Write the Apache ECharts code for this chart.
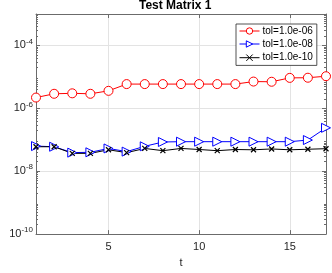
<!DOCTYPE html>
<html><head><meta charset="utf-8">
<script src="https://cdn.jsdelivr.net/npm/echarts@6/dist/echarts.min.js"></script>
<style>html,body{margin:0;padding:0;background:#fff}#c{width:332px;height:273px}</style>
</head><body><div id="c"></div>
<script>
var categories = [1,2,3,4,5,6,7,8,9,10,11,12,13,14,15,16,17];
var seriesNames = ['tol=1.0e-06','tol=1.0e-08','tol=1.0e-10'];
var tol6 = [2.2e-6,2.9e-6,3.0e-6,2.9e-6,3.6e-6,5.9e-6,5.9e-6,5.9e-6,5.9e-6,5.9e-6,5.9e-6,5.9e-6,7.1e-6,7.0e-6,9.3e-6,9.4e-6,1.05e-5];
var tol8 = [6.3e-8,6.0e-8,3.9e-8,4.0e-8,5.3e-8,4.2e-8,6.2e-8,8.5e-8,8.7e-8,8.7e-8,8.7e-8,8.7e-8,8.7e-8,8.7e-8,8.7e-8,9.8e-8,2.4e-7];
var tol10 = [6.0e-8,6.0e-8,3.7e-8,3.7e-8,4.8e-8,3.9e-8,5.3e-8,4.5e-8,5.3e-8,4.9e-8,4.5e-8,4.9e-8,4.8e-8,5.1e-8,4.8e-8,5.0e-8,5.2e-8];
var xTickLabels = [5,10,15];
var yTickLabels = [1e-10,1e-8,1e-6,1e-4];

var minorTicks = [];
for (var e = -10; e < -3; e++) { for (var m = 2; m <= 9; m++) minorTicks.push(m * Math.pow(10, e)); }

var axisColor = '#6b6b6b';
var font = 'Liberation Sans';
function xTickFn(i, v) { return xTickLabels.indexOf(Number(v)) >= 0; }

function yAxisBase(pos) {
  return { type: 'log', logBase: 10, min: 1e-10, max: 1e-3, interval: 2, position: pos,
    axisLine: { show: false }, splitLine: { show: false }, axisLabel: { show: false },
    axisTick: { show: true } };
}
var yMain = yAxisBase('left');
yMain.axisLine = { show: true, lineStyle: { color: axisColor, width: 1 } };
yMain.axisTick = { show: true, inside: true, length: 4, customValues: yTickLabels, lineStyle: { color: axisColor } };
yMain.splitLine = { show: true, lineStyle: { color: '#e3e3e3', width: 1 } };
yMain.axisLabel = { show: true, customValues: yTickLabels, margin: 3, fontFamily: font, color: '#262626',
  formatter: function (v) { var ex = Math.round(Math.log10(v)); return '{b|10}{s|' + ex + '}'; },
  rich: { b: { fontSize: 11, fontFamily: font, color: '#262626' },
          s: { fontSize: 8, fontFamily: font, color: '#262626', verticalAlign: 'bottom', padding: [0,0,8,0] } } };
var yMinorL = yAxisBase('left');
yMinorL.axisTick = { show: true, inside: true, length: 2, customValues: minorTicks, lineStyle: { color: axisColor } };
var yRight = yAxisBase('right');
yRight.axisLine = { show: true, lineStyle: { color: axisColor, width: 1 } };
yRight.axisTick = { show: true, inside: true, length: 4, customValues: yTickLabels, lineStyle: { color: axisColor } };
var yMinorR = yAxisBase('right');
yMinorR.axisTick = { show: true, inside: true, length: 2, customValues: minorTicks, lineStyle: { color: axisColor } };

var option = {
  animation: false,
  backgroundColor: '#fff',
  title: { text: 'Test Matrix 1', left: 139, top: 0, padding: 0,
    textStyle: { fontFamily: font, fontSize: 12, fontWeight: 'bold', color: '#000' } },
  grid: { left: 36, right: 6, top: 14, bottom: 35, containLabel: false },
  legend: {
    data: seriesNames, orient: 'vertical', left: 236, top: 24, width: 85,
    backgroundColor: '#fff', borderColor: '#262626', borderWidth: 0.8,
    padding: [2, 4, 2, 3], itemGap: 3, itemWidth: 20, itemHeight: 8,
    itemStyle: { borderWidth: 1 }, lineStyle: { width: 1 },
    textStyle: { fontFamily: font, fontSize: 10, color: '#000', padding: [0,0,0,-2] }
  },
  xAxis: [
    { type: 'category', data: categories, boundaryGap: false, position: 'bottom',
      name: 't', nameLocation: 'middle', nameGap: 21,
      nameTextStyle: { fontFamily: font, fontSize: 11, color: '#262626' },
      axisLine: { lineStyle: { color: axisColor } },
      axisTick: { inside: true, length: 4, interval: xTickFn, lineStyle: { color: axisColor } },
      axisLabel: { interval: xTickFn, margin: 7, fontFamily: font, fontSize: 11, color: '#262626' },
      splitLine: { show: true, interval: xTickFn, lineStyle: { color: '#e3e3e3' } } },
    { type: 'category', data: categories, boundaryGap: false, position: 'top',
      axisLine: { show: true, lineStyle: { color: axisColor } },
      axisTick: { inside: true, length: 4, interval: xTickFn, lineStyle: { color: axisColor } },
      axisLabel: { show: false }, splitLine: { show: false } }
  ],
  yAxis: [yMain, yMinorL, yRight, yMinorR],
  series: [
    { name: seriesNames[0], type: 'line', data: tol6, symbol: 'circle', symbolSize: 9,
      lineStyle: { color: '#ff0000', width: 1 }, itemStyle: { color: '#ffffff', borderColor: '#ff0000', borderWidth: 1 } },
    { name: seriesNames[1], type: 'line', data: tol8, symbol: 'triangle', symbolSize: 9, symbolRotate: -90,
      lineStyle: { color: '#0000ff', width: 1 }, itemStyle: { color: '#ffffff', borderColor: '#0000ff', borderWidth: 1 } },
    { name: seriesNames[2], type: 'line', data: tol10, symbol: 'path://M0,0L10,10M10,0L0,10', symbolSize: 5,
      lineStyle: { color: '#000', width: 1 }, itemStyle: { color: 'none', borderColor: '#000', borderWidth: 1.2 } }
  ]
};
var chart = echarts.init(document.getElementById('c'), null, { renderer: 'canvas' });
chart.setOption(option);
</script></body></html>
